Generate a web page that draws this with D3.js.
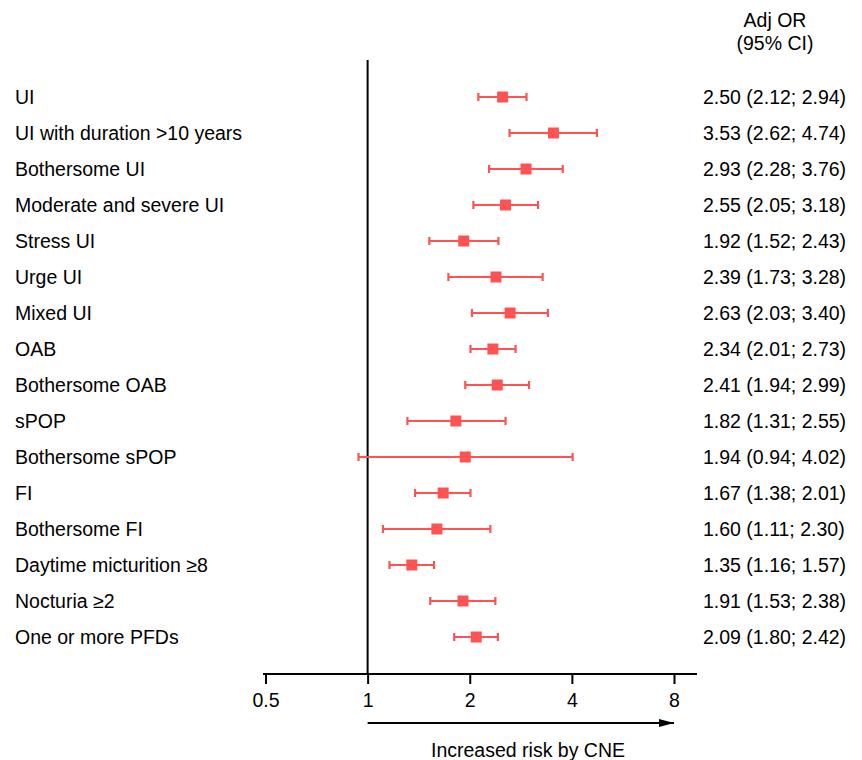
<!DOCTYPE html>
<html>
<head>
<meta charset="utf-8">
<script src="https://cdn.jsdelivr.net/npm/d3@7"></script>
<style>
  body { margin: 0; background: #fff; }
  svg text { font-family: "Liberation Sans", Arial, sans-serif; fill: #000; }
</style>
</head>
<body>
<script>
let labels = ["UI", "UI with duration >10 years", "Bothersome UI", "Moderate and severe UI",
  "Stress UI", "Urge UI", "Mixed UI", "OAB", "Bothersome OAB", "sPOP", "Bothersome sPOP",
  "FI", "Bothersome FI", "Daytime micturition \u22658", "Nocturia \u22652", "One or more PFDs"];
let or = [2.50, 3.53, 2.93, 2.55, 1.92, 2.39, 2.63, 2.34, 2.41, 1.82, 1.94, 1.67, 1.60, 1.35, 1.91, 2.09];
let lower = [2.12, 2.62, 2.28, 2.05, 1.52, 1.73, 2.03, 2.01, 1.94, 1.31, 0.94, 1.38, 1.11, 1.16, 1.53, 1.80];
let upper = [2.94, 4.74, 3.76, 3.18, 2.43, 3.28, 3.40, 2.73, 2.99, 2.55, 4.02, 2.01, 2.30, 1.57, 2.38, 2.42];
let tickVals = [0.5, 1, 2, 4, 8];

let width = 862, height = 760;
let red = "#ff5252";
let fs = "19.5px";

let svg = d3.select("body").append("svg")
  .attr("width", width)
  .attr("height", height);

let x = d3.scaleLog().base(2)
  .domain([0.5, 8])
  .range([265.5, 674]);

let y = d3.scaleBand()
  .domain(labels)
  .range([79, 655]);

let rows = labels.map((d, i) => ({ label: d, or: or[i], lo: lower[i], hi: upper[i] }));

// reference line at 1
svg.append("line")
  .attr("x1", x(1)).attr("x2", x(1))
  .attr("y1", 60).attr("y2", 674)
  .attr("stroke", "#000").attr("stroke-width", 2);

// x axis
let axis = svg.append("g")
  .attr("transform", "translate(0,674)")
  .call(d3.axisBottom(x).tickValues(tickVals).tickFormat(d3.format("")).tickSize(10).tickPadding(9));
axis.select(".domain").attr("stroke-width", 2).attr("d", "M263,0H697");
axis.selectAll(".tick line").attr("stroke-width", 2);
axis.selectAll(".tick text").style("font-size", fs).attr("dy", "0.71em");

// arrow
svg.append("defs").append("marker")
  .attr("id", "arr")
  .attr("viewBox", "0 0 15 10")
  .attr("refX", 15).attr("refY", 5)
  .attr("markerWidth", 15).attr("markerHeight", 10)
  .attr("markerUnits", "userSpaceOnUse")
  .attr("orient", "auto")
  .append("path").attr("d", "M0,1L15,5L0,9Z").attr("fill", "#000");

svg.append("line")
  .attr("x1", x(1)).attr("x2", x(8))
  .attr("y1", 723).attr("y2", 723)
  .attr("stroke", "#000").attr("stroke-width", 2)
  .attr("marker-end", "url(#arr)");

svg.append("text")
  .attr("x", 528).attr("y", 757)
  .attr("text-anchor", "middle")
  .style("font-size", fs)
  .text("Increased risk by CNE");

// header
svg.append("text").attr("x", 775).attr("y", 27).attr("text-anchor", "middle")
  .style("font-size", fs).text("Adj OR");
svg.append("text").attr("x", 775).attr("y", 50).attr("text-anchor", "middle")
  .style("font-size", fs).text("(95% CI)");

let g = svg.selectAll(".row").data(rows).enter().append("g")
  .attr("class", "row")
  .attr("transform", d => `translate(0,${y(d.label) + y.bandwidth() / 2})`);

g.append("text")
  .attr("x", 15).attr("y", 7)
  .style("font-size", fs)
  .text(d => d.label);

g.append("line")
  .attr("x1", d => x(d.lo)).attr("x2", d => x(d.hi))
  .attr("stroke", red).attr("stroke-width", 2.2);

g.append("line")
  .attr("x1", d => x(d.lo)).attr("x2", d => x(d.lo))
  .attr("y1", -4).attr("y2", 4)
  .attr("stroke", red).attr("stroke-width", 2.2);

g.append("line")
  .attr("x1", d => x(d.hi)).attr("x2", d => x(d.hi))
  .attr("y1", -4).attr("y2", 4)
  .attr("stroke", red).attr("stroke-width", 2.2);

g.append("rect")
  .attr("x", d => x(d.or) - 5.5).attr("y", -5.5)
  .attr("width", 11).attr("height", 11)
  .attr("fill", red);

let f = d3.format(".2f");
g.append("text")
  .attr("x", 703).attr("y", 7)
  .style("font-size", fs)
  .text(d => `${f(d.or)} (${f(d.lo)}; ${f(d.hi)})`);
</script>
</body>
</html>
